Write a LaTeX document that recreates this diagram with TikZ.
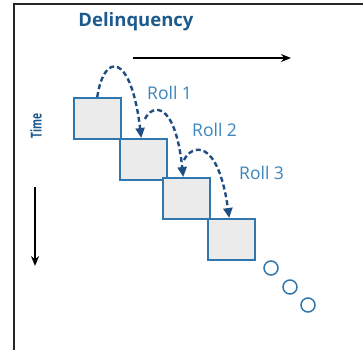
\documentclass[tikz,border=0pt]{standalone}
\usepackage{fontspec}
\setmainfont{Open Sans}
\usetikzlibrary{arrows.meta,calc}
\definecolor{darkblue}{HTML}{1D5A8E}
\definecolor{rollblue}{HTML}{3A86BE}
\definecolor{boxblue}{HTML}{2F77AE}
\definecolor{boxfill}{HTML}{EBEBEB}
\definecolor{arcblue}{HTML}{1F4E82}
\tikzset{
  stepbox/.style={draw=boxblue, line width=1.5pt, fill=boxfill, minimum width=47pt, minimum height=41pt, inner sep=0pt, anchor=north west},
  dot/.style={draw=boxblue, line width=1.5pt, circle, minimum size=14pt, inner sep=0pt},
  roll/.style={-{Triangle[length=10pt,width=9pt]}, dash pattern=on 5pt off 3pt, line width=2.4pt, draw=arcblue},
  rolltext/.style={text=rollblue, font=\fontsize{17.5}{19}\selectfont, inner sep=0pt},
  axis/.style={-{Stealth[length=10pt,width=8pt]}, line width=1.6pt, black},
}
\begin{document}
\begin{tikzpicture}[x=1pt,y=-1pt]
\useasboundingbox (0,0) rectangle (363,350);
\fill[white] (0,0) rectangle (363,350);
% frame
\draw[line width=2pt, black!85] (14,350) -- (14,4) -- (363,4);
% labels
\node[text=darkblue, font=\fontsize{18.5}{20}\selectfont\bfseries, inner sep=0pt] (delq) at (136,22) {Delinquency};
\node[text=darkblue, font=\fontsize{15}{17}\selectfont\bfseries, inner sep=0pt, rotate=90] (time) at (36,126) {\scalebox{0.68}[1]{Time}};
% axes
\coordinate (h1) at (133,58);
\coordinate (h2) at (291,58);
\draw[axis] (h1) -- (h2);
\coordinate (v1) at (35,187);
\coordinate (v2) at (35,266);
\draw[axis] (v1) -- (v2);
% boxes
\node[stepbox] (b1) at (73,97) {};
\node[stepbox] (b2) at (119,138) {};
\node[stepbox] (b3) at (162,177) {};
\node[stepbox] (b4) at (207,218) {};
% circles
\node[dot] (c1) at (271,268) {};
\node[dot] (c2) at (290,287) {};
\node[dot] (c3) at (308,305) {};
% roll arcs
\coordinate (s2) at (145,119);
\coordinate (s3) at (184,160);
\draw[roll] (b1.north) .. controls (104,52) and (131,52) .. ($(b2.north)+(-2,0)$);
\draw[roll] (s2) .. controls (152,104) and (175,100) .. ($(b3.north)+(-3,0)$);
\draw[roll] (s3) .. controls (192,144) and (218,138) .. ($(b4.north)+(-2,0)$);
% roll labels
\node[rolltext, anchor=west] (r1) at (147,93) {Roll 1};
\node[rolltext, anchor=west] (r2) at (192,130) {Roll 2};
\node[rolltext, anchor=west] (r3) at (239,173) {Roll 3};
\end{tikzpicture}
\end{document}
